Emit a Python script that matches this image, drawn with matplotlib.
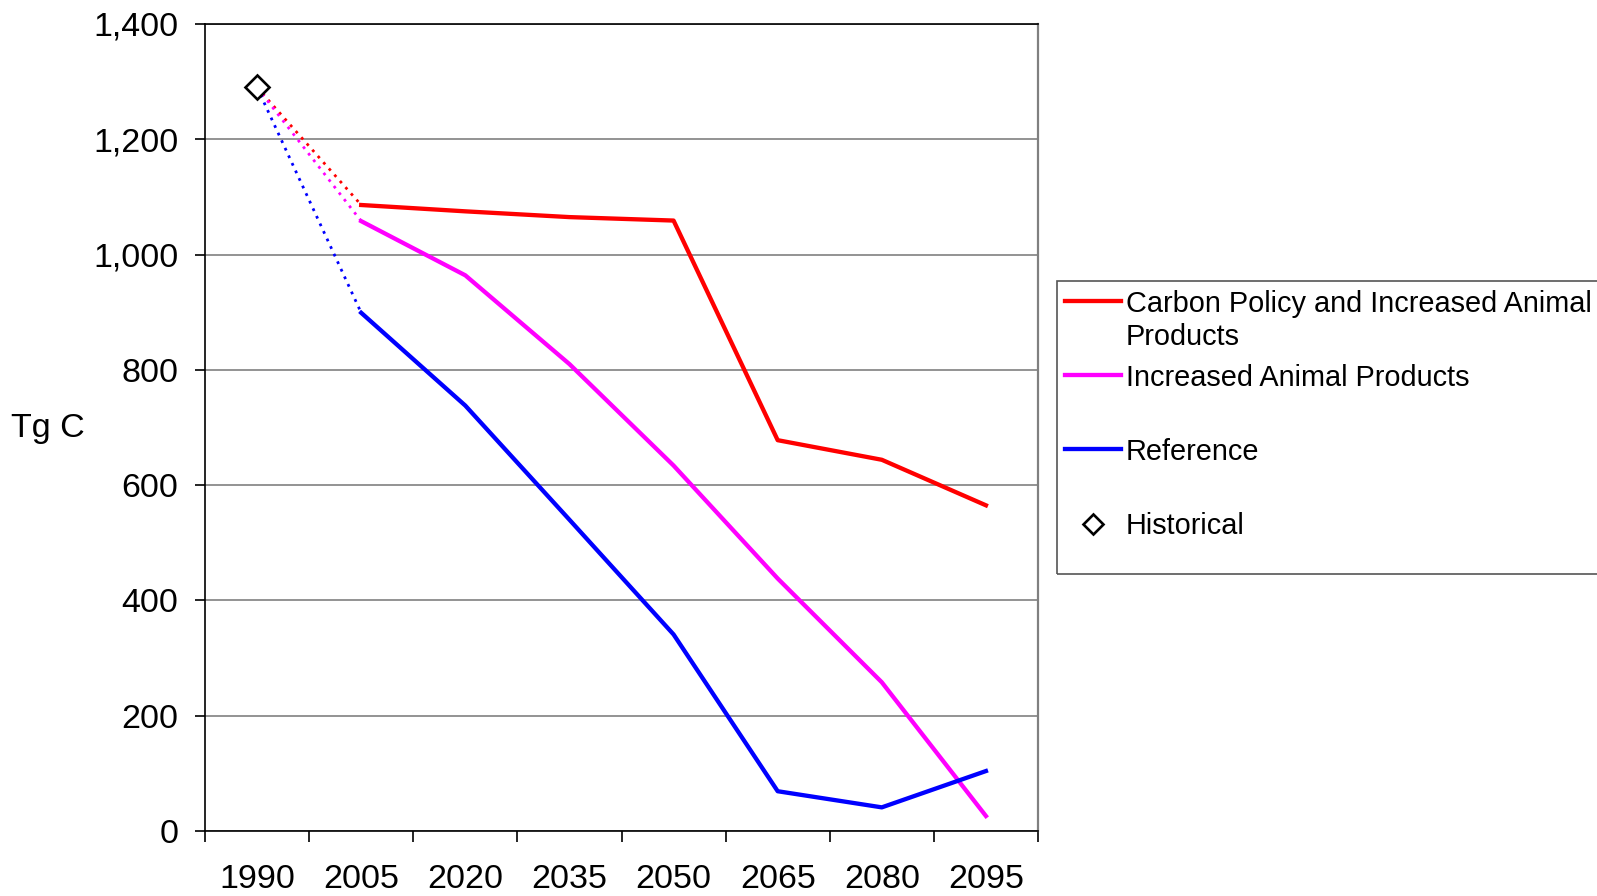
import numpy as np
import matplotlib.pyplot as plt
from matplotlib.lines import Line2D
from matplotlib.patches import Rectangle

plt.rcParams['font.family'] = ['Liberation Sans', 'DejaVu Sans']

# --- datos ---
years = ["1990", "2005", "2020", "2035", "2050", "2065", "2080", "2095"]
historical = 1290
carbon_policy = [1086, 1075, 1065, 1059, 678, 644, 565]
animal_products = [1058, 964, 810, 634, 438, 258, 26]
reference = [899, 738, 540, 341, 69, 41, 104]

series = [
    ("Carbon Policy and Increased Animal\nProducts", carbon_policy, "#ff0000"),
    ("Increased Animal Products", animal_products, "#ff00ff"),
    ("Reference", reference, "#0000ff"),
]

W, H = 1597, 896
fig = plt.figure(figsize=(W / 100, H / 100), dpi=100)
ax = fig.add_axes([205 / W, 1 - 831 / H, (1038 - 205) / W, (831 - 24) / H])

x = np.arange(len(years))
for label, vals, col in series:
    # tramo punteado desde el dato historico
    ax.plot([x[0], x[1]], [historical, vals[0]], color=col, lw=2.0,
            ls=(0, (1.0, 2.0)), zorder=3)
    ax.plot(x[1:], vals, color=col, lw=3.1, solid_joinstyle="round", zorder=4)

ax.plot([x[0]], [historical], marker="D", ms=12.5, mfc="white", mec="black",
        mew=1.9, ls="none", zorder=5)

ax.set_xlim(-0.5, len(years) - 0.5)
ax.set_ylim(0, 1400)
ax.set_yticks(np.arange(0, 1401, 200))
ax.set_yticklabels([f"{v:,}" for v in range(0, 1401, 200)])
ax.set_xticks(x)
ax.set_xticklabels(years)
ax.set_xticks(np.arange(-0.5, len(years)), minor=True)
ax.tick_params(axis="x", which="major", length=0, pad=24, labelsize=24.5)
ax.tick_params(axis="x", which="minor", length=8, width=1.2, direction="out")
ax.tick_params(axis="y", length=7, width=1.2, pad=12, labelsize=24.5)

ax.grid(axis="y", color="#808080", lw=1.2)
ax.set_axisbelow(True)
for s in ["left", "bottom", "top"]:
    ax.spines[s].set_color("black")
    ax.spines[s].set_linewidth(1.2)
ax.spines["right"].set_color("#808080")
ax.spines["right"].set_linewidth(1.6)

fig.text(48 / W, 1 - 428 / H, "Tg C", fontsize=24.5, ha="center", va="center")

# --- leyenda manual ---
def fx(px):
    return px / W

def fy(py):
    return 1 - py / H

fig.patches.append(Rectangle((fx(1057), fy(574)), fx(600), (574 - 281) / H,
                             transform=fig.transFigure, fill=False,
                             edgecolor="#555555", lw=1.2))
rows = [301, 375, 449]
for (label, vals, col), ry in zip(series, rows):
    fig.lines.append(Line2D([fx(1065), fx(1121)], [fy(ry), fy(ry)],
                            transform=fig.transFigure, color=col, lw=3.1))
    for i, line in enumerate(label.split("\n")):
        fig.text(fx(1126), fy(ry + 3 + i * 33), line, fontsize=20.8,
                 ha="left", va="center")
fig.lines.append(Line2D([fx(1093)], [fy(524)], transform=fig.transFigure,
                        marker="D", ms=10, mfc="white", mec="black", mew=1.9))
fig.text(fx(1126), fy(526), "Historical", fontsize=20.8, ha="left",
         va="center")

fig.savefig("out.png", dpi=100)
